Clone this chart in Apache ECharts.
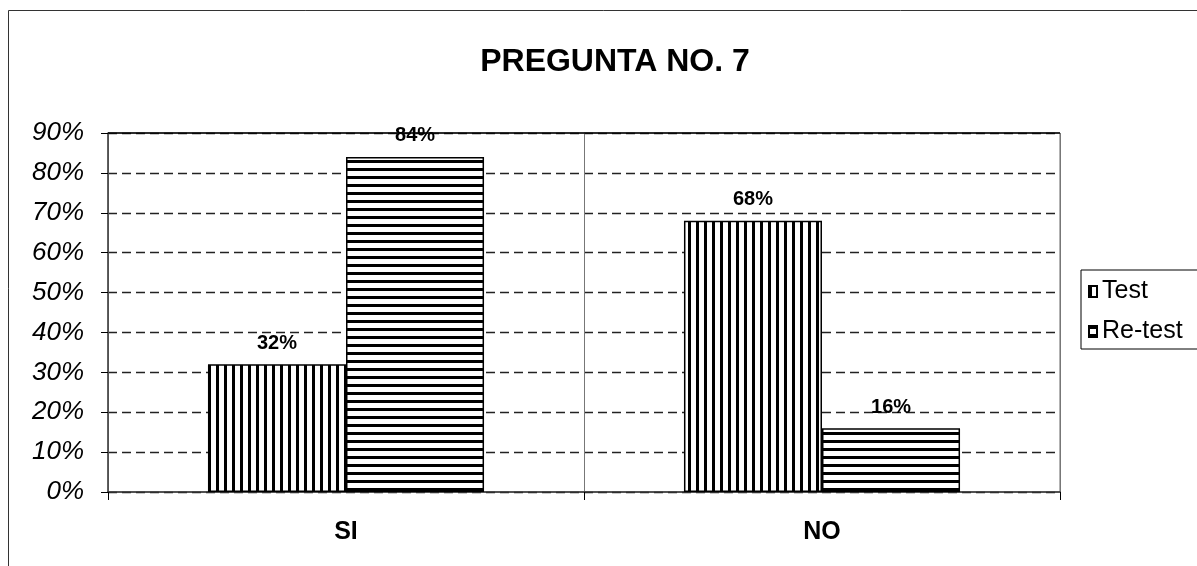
<!DOCTYPE html>
<html>
<head>
<meta charset="utf-8">
<script src="https://cdn.jsdelivr.net/npm/echarts@6/dist/echarts.min.js"></script>
<style>
  html, body { margin: 0; padding: 0; background: #fff; }
  #chart { width: 1197px; height: 566px; }
</style>
</head>
<body>
<div id="chart"></div>
<script>
// datos del gráfico
const categories = ['SI', 'NO']
const seriesNames = ['Test', 'Re-test']
const testValues = [32, 68]
const retestValues = [84, 16]

// patrón de rayas (vertical u horizontal)
const makeStripes = (vertical) => {
  const c = document.createElement('canvas')
  c.width = 8
  c.height = 8
  const ctx = c.getContext('2d')
  ctx.fillStyle = '#fff'
  ctx.fillRect(0, 0, 8, 8)
  ctx.fillStyle = '#000'
  if (vertical) {
    ctx.fillRect(0, 0, 3, 8)
  } else {
    ctx.fillRect(0, 0, 8, 3)
  }
  return { image: c, repeat: 'repeat' }
}

const font = '"Liberation Sans", Arial, sans-serif'

const chart = echarts.init(document.getElementById('chart'))
chart.setOption({
  animation: false,
  backgroundColor: '#fff',
  textStyle: { fontFamily: font },
  title: {
    text: 'PREGUNTA NO. 7',
    left: 610,
    top: 41,
    textAlign: 'center',
    textStyle: { fontSize: 32, fontWeight: 'bold', color: '#000', fontFamily: font }
  },
  graphic: [
    {
      type: 'rect',
      shape: { x: 8.5, y: 10.5, width: 1200, height: 600 },
      style: { fill: 'none', stroke: '#333', lineWidth: 1 },
      silent: true
    }
  ],
  legend: {
    orient: 'vertical',
    left: 1081,
    top: 270,
    padding: [9, 20, 5, 7],
    itemGap: 15,
    itemWidth: 8,
    itemHeight: 11,
    icon: 'rect',
    borderColor: '#000',
    borderWidth: 1,
    textStyle: { fontSize: 25, color: '#000', fontFamily: font },
    data: seriesNames
  },
  grid: {
    left: 108,
    right: 137,
    top: 133,
    bottom: 74,
    show: true,
    borderColor: '#666',
    borderWidth: 1
  },
  xAxis: {
    type: 'category',
    data: categories,
    axisLine: { lineStyle: { color: '#333', width: 1.5 } },
    axisTick: { show: true, length: 8, lineStyle: { color: '#000' } },
    splitLine: { show: true, lineStyle: { color: '#777', width: 1 } },
    axisLabel: { fontSize: 25, fontWeight: 'bold', color: '#000', margin: 28, fontFamily: font }
  },
  yAxis: {
    type: 'value',
    min: 0,
    max: 90,
    interval: 10,
    axisLine: { show: true, lineStyle: { color: '#444', width: 1.5 } },
    axisTick: { show: true, length: 7, lineStyle: { color: '#000' } },
    splitLine: { show: true, lineStyle: { color: '#222', type: [9, 5], width: 1.3 } },
    axisLabel: {
      formatter: '{value}%',
      fontSize: 26,
      fontStyle: 'italic',
      color: '#000',
      margin: 24,
      fontFamily: font
    }
  },
  series: [
    {
      name: seriesNames[0],
      type: 'bar',
      data: testValues,
      barGap: '0%',
      barCategoryGap: '42%',
      itemStyle: { color: makeStripes(true), borderColor: '#000', borderWidth: 1.5 },
      label: {
        show: true,
        position: 'top',
        formatter: '{c}%',
        fontSize: 20,
        fontWeight: 'bold',
        color: '#000',
        distance: 11
      },
      markLine: {
        silent: true,
        symbol: 'none',
        label: { show: false },
        lineStyle: { color: '#000', type: 'solid', width: 1.5 },
        data: [{ yAxis: 90 }]
      }
    },
    {
      name: seriesNames[1],
      type: 'bar',
      data: retestValues,
      barGap: '0%',
      barCategoryGap: '42%',
      itemStyle: { color: makeStripes(false), borderColor: '#000', borderWidth: 1.5 },
      label: {
        show: true,
        position: 'top',
        formatter: '{c}%',
        fontSize: 20,
        fontWeight: 'bold',
        color: '#000',
        distance: 11
      }
    }
  ]
})
</script>
</body>
</html>
